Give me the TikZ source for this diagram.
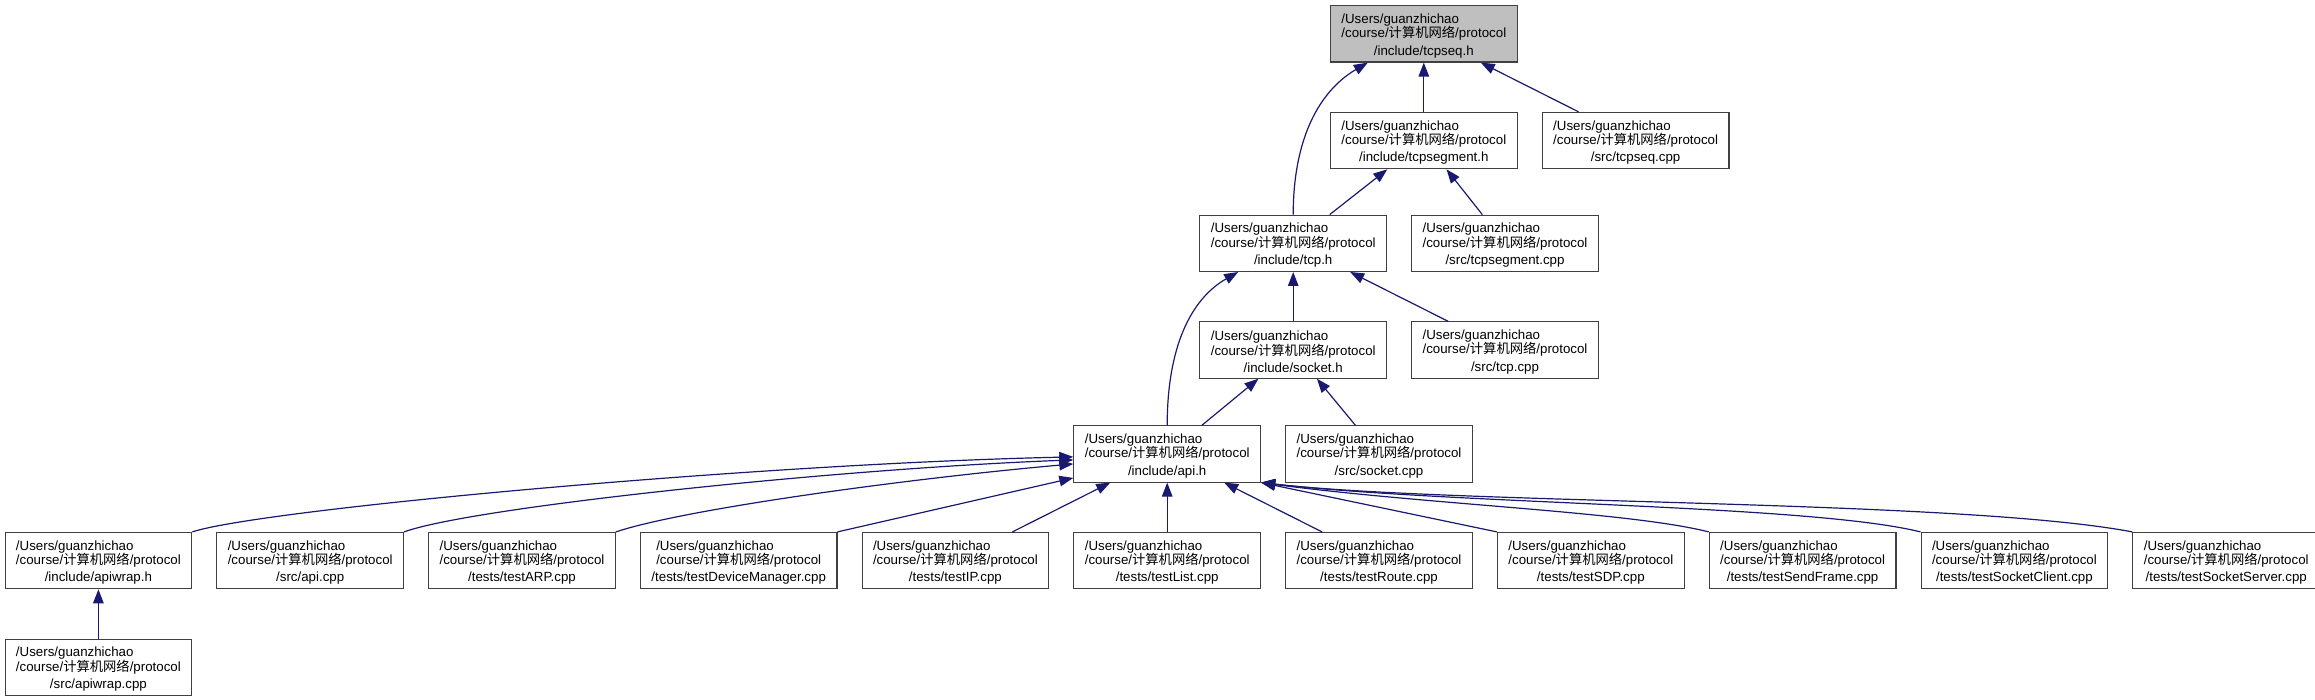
\documentclass[tikz,border=0pt]{standalone}
\usepackage{fontspec}
\setmainfont{Liberation Sans}
\newfontfamily\cjk{Noto Sans CJK SC}
\usetikzlibrary{arrows.meta,positioning}
\definecolor{ink}{HTML}{404040}
\definecolor{rootfill}{HTML}{BFBFBF}
\definecolor{edgeblue}{HTML}{191970}
\newcommand{\cn}{{\cjk 计算机网络}}
\newlength\pathwd
\newcommand{\fpath}[1]{\settowidth{\pathwd}{/course/\cn/protocol}\makebox[\pathwd][l]{\rule{0pt}{13.5pt}/Users/guanzhichao}\\/course/\cn/protocol\\[3pt]#1}
\tikzset{
  filebox/.style={draw=ink, line width=1.1pt, fill=white, align=center, minimum width=186.7pt, minimum height=56.3pt, inner xsep=3pt, inner ysep=2pt, font=\fontsize{13.3pt}{14.3pt}\selectfont},
  widebox/.style={filebox, minimum width=196.5pt},
  rootbox/.style={filebox, fill=rootfill},
  dep/.style={-{Triangle[length=14pt, width=10.5pt]}, line width=1.2pt, draw=edgeblue}
}
\begin{document}
\begin{tikzpicture}[x=1pt, y=1pt, node distance=49.3pt and 24pt]
  \useasboundingbox (0,0) rectangle (2315,-700);

  \node[rootbox] (tcpseqh) at (1423.8,-33.9) {\fpath{/include/tcpseq.h}};
  \node[filebox, below=of tcpseqh] (tcpsegmenth) {\fpath{/include/tcpsegment.h}};
  \node[filebox, right=of tcpsegmenth] (tcpseqcpp) {\fpath{/src/tcpseq.cpp}};
  \node[filebox] (socketh) at (1293.2,-350) {\fpath{/include/socket.h}};
  \node[filebox, above=of socketh] (tcph) {\fpath{/include/tcp.h}};
  \node[filebox, right=of tcph] (tcpsegmentcpp) {\fpath{/src/tcpsegment.cpp}};
  \node[filebox, right=of socketh] (tcpcpp) {\fpath{/src/tcp.cpp}};

  \node[filebox] (apiwraph) at (98.4,-560.6) {\fpath{/include/apiwrap.h}};
  \node[filebox, right=of apiwraph] (apicpp) {\fpath{/src/api.cpp}};
  \node[filebox, right=of apicpp] (testarp) {\fpath{/tests/testARP.cpp}};
  \node[widebox, right=of testarp] (testdm) {\fpath{/tests/testDeviceManager.cpp}};
  \node[filebox, right=of testdm] (testip) {\fpath{/tests/testIP.cpp}};
  \node[filebox, right=of testip] (testlist) {\fpath{/tests/testList.cpp}};
  \node[filebox, right=of testlist] (testroute) {\fpath{/tests/testRoute.cpp}};
  \node[filebox, right=of testroute] (testsdp) {\fpath{/tests/testSDP.cpp}};
  \node[filebox, right=of testsdp] (testsendframe) {\fpath{/tests/testSendFrame.cpp}};
  \node[filebox, right=of testsendframe] (testclient) {\fpath{/tests/testSocketClient.cpp}};
  \node[filebox, right=of testclient] (testserver) {\fpath{/tests/testSocketServer.cpp}};
  \node[filebox, below=of apiwraph] (apiwrapcpp) {\fpath{/src/apiwrap.cpp}};

  \node[filebox, above=of testlist] (apih) {\fpath{/include/api.h}};
  \node[filebox, right=of apih] (socketcpp) {\fpath{/src/socket.cpp}};

  \draw[dep] (tcpsegmenth) -- (tcpseqh);
  \draw[dep] (tcpseqcpp) -- (tcpseqh);
  \draw[dep] (tcph.north) .. controls +(0,76.7) and +(-48,-28) .. ([xshift=-56pt]tcpseqh.south);
  \draw[dep] (tcph) -- (tcpsegmenth);
  \draw[dep] (tcpsegmentcpp) -- (tcpsegmenth);
  \draw[dep] (socketh) -- (tcph);
  \draw[dep] (tcpcpp) -- (tcph);
  \draw[dep] (apih.north) .. controls +(0,77) and +(-48,-27.3) .. ([xshift=-55pt]tcph.south);
  \draw[dep] (apih) -- (socketh);
  \draw[dep] (socketcpp) -- (socketh);

  \draw[dep] (apiwraph.north east) .. controls +(68,22.5) and +(-319,-7) .. ([yshift=-3pt]apih.west);
  \draw[dep] (apicpp.north east) .. controls +(67,24.5) and +(-239,-9) .. ([yshift=-6pt]apih.west);
  \draw[dep] (testarp.north east) .. controls +(67,22.5) and +(-169,-15) .. ([yshift=-10pt]apih.west);
  \draw[dep] (testdm.north east) -- ([yshift=-24pt]apih.west);
  \draw[dep] (testip) -- (apih);
  \draw[dep] (testlist) -- (apih);
  \draw[dep] (testroute) -- (apih);
  \draw[dep] (testsdp.north west) -- (apih.south east);
  \draw[dep] (testsendframe.north west) .. controls +(-81,20.5) and +(164,-22) .. (apih.south east);
  \draw[dep] (testclient.north west) .. controls +(-111,27.5) and +(194,-22) .. (apih.south east);
  \draw[dep] (testserver.north west) .. controls +(-171.5,32.5) and +(194,-22) .. (apih.south east);
  \draw[dep] (apiwrapcpp) -- (apiwraph);
\end{tikzpicture}
\end{document}
